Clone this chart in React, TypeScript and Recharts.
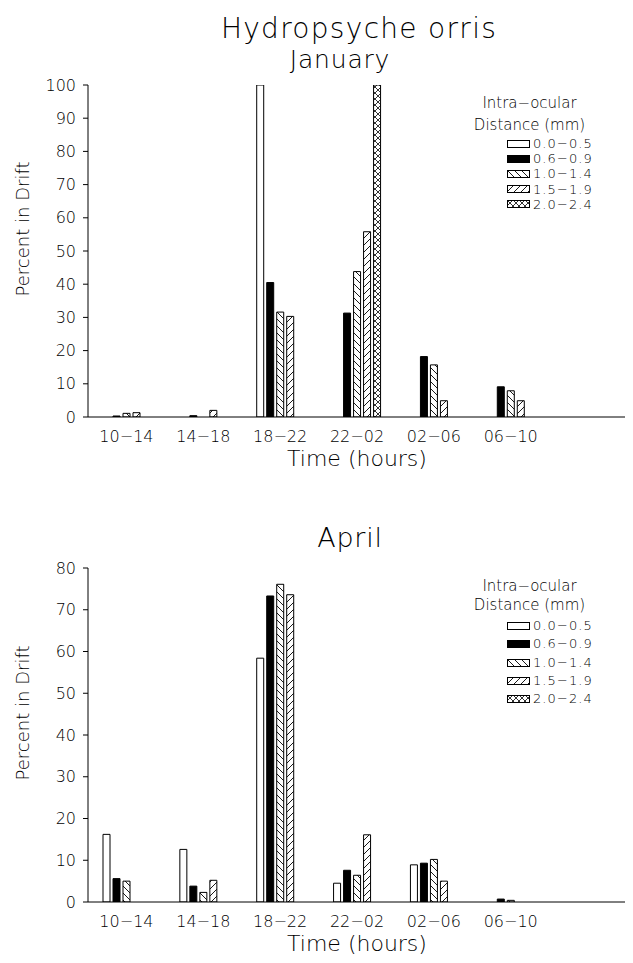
import React from "react";
import { BarChart, Bar, XAxis, YAxis, Legend, Label } from "recharts";

const FONT = "'DejaVu Sans', sans-serif";

// time-of-day categories (last slot is empty on the original plot)
const times = ["10−14", "14−18", "18−22", "22−02", "02−06", "06−10", ""];

// intra-ocular distance classes
const sizeClasses = ["0.0−0.5", "0.6−0.9", "1.0−1.4", "1.5−1.9", "2.0−2.4"];
const sizeKeys = ["s00", "s06", "s10", "s15", "s20"];
const sizeFills = ["#ffffff", "#000000", "url(#hatchBack)", "url(#hatchFwd)", "url(#hatchCross)"];

// January - percent in drift
const janS00 = [0, 0, 100, 0, 0, 0, 0];
const janS06 = [0.3, 0.4, 40.5, 31.3, 18.2, 9.1, 0];
const janS10 = [1.1, 0, 31.6, 43.8, 15.7, 7.9, 0];
const janS15 = [1.3, 2.0, 30.3, 55.8, 4.9, 4.9, 0];
const janS20 = [0, 0, 0, 100, 0, 0, 0];

// April - percent in drift
const aprS00 = [16.2, 12.6, 58.4, 4.5, 8.9, 0, 0];
const aprS06 = [5.6, 3.8, 73.3, 7.6, 9.3, 0.7, 0];
const aprS10 = [5.0, 2.3, 76.1, 6.4, 10.2, 0.4, 0];
const aprS15 = [0, 5.2, 73.6, 16.1, 5.0, 0, 0];
const aprS20 = [0, 0, 0, 0, 0, 0, 0];

const janTicks = [0, 10, 20, 30, 40, 50, 60, 70, 80, 90, 100];
const aprTicks = [0, 10, 20, 30, 40, 50, 60, 70, 80];
const slotTicks = [1, 2, 3, 4, 5, 6];

function buildRows(cols: number[][]) {
  return times.map((time, i) => {
    const row: Record<string, any> = { time };
    sizeKeys.forEach((k, j) => {
      row[k] = cols[j][i];
    });
    return row;
  });
}

const janData = buildRows([janS00, janS06, janS10, janS15, janS20]);
const aprData = buildRows([aprS00, aprS06, aprS10, aprS15, aprS20]);

const renderNothing = () => <g />;

function LegendBox({ titleLH, rowH, gap }: { titleLH: number; rowH: number; gap: number }) {
  return (
    <div style={{ width: 127, fontFamily: FONT, fontWeight: 200, fontSize: 15, color: "#000" }}>
      <div style={{ textAlign: "center", lineHeight: `${titleLH}px` }}>Intra−ocular</div>
      <div style={{ textAlign: "center", lineHeight: `${titleLH}px`, marginBottom: gap }}>Distance (mm)</div>
      {sizeClasses.map((c, i) => (
        <div
          key={c}
          style={{ display: "flex", justifyContent: "flex-end", alignItems: "center", height: rowH }}
        >
          <svg width={23} height={8} style={{ marginRight: 3 }}>
            <rect x={0.5} y={0.5} width={22} height={7} fill={sizeFills[i]} stroke="#000" />
          </svg>
          <span
            style={{
              width: 60,
              whiteSpace: "nowrap",
              fontSize: 13,
              letterSpacing: 1.1,
              lineHeight: `${rowH}px`,
            }}
          >
            {c}
          </span>
        </div>
      ))}
    </div>
  );
}

const yLabel = (props: any) => {
  const vb = props.viewBox || {};
  const cx = 22;
  const cy = vb.y + vb.height / 2 - 22;
  return (
    <text
      x={cx}
      y={cy}
      transform={`rotate(-90, ${cx}, ${cy})`}
      textAnchor="middle"
      dominantBaseline="central"
      fontFamily={FONT}
      fontWeight={200}
      fontSize={18}
      fill="#000"
    >
      Percent in Drift
    </text>
  );
};

interface PanelProps {
  data: any[];
  yMax: number;
  yTicks: number[];
  height: number;
  plotTop: number;
  xAxisHeight: number;
  legendTop: number;
  titleLH: number;
  rowH: number;
  gap: number;
  children?: React.ReactNode;
}

function Panel({ data, yMax, yTicks, height, plotTop, xAxisHeight, legendTop, titleLH, rowH, gap, children }: PanelProps) {
  const axisText = { fill: "#000", fontSize: 16, fontFamily: FONT, fontWeight: 200 };
  return (
    <BarChart
      width={633}
      height={height}
      data={data}
      margin={{ top: plotTop, right: 7, bottom: 0, left: 28 }}
      barCategoryGap={15}
      barGap={3}
    >
      {children}
      <XAxis
        dataKey="time"
        interval={0}
        tickLine={false}
        tickSize={0}
        tickMargin={14}
        height={xAxisHeight}
        tick={axisText}
        axisLine={{ stroke: "#000" }}
      >
        <Label
          value="Time (hours)"
          position="insideBottom"
          offset={xAxisHeight - 49}
          fill="#000"
          fontSize={22}
          fontFamily={FONT}
          fontWeight={200}
        />
      </XAxis>
      {/* small inward marks at the category boundaries */}
      <XAxis
        xAxisId="slots"
        type="number"
        domain={[0, 7]}
        ticks={slotTicks}
        allowDataOverflow
        mirror
        height={0}
        axisLine={false}
        tickSize={5}
        tickLine={{ stroke: "#000" }}
        tick={renderNothing}
      />
      <XAxis xAxisId="top" orientation="top" dataKey="time" height={0} tick={false} tickLine={false} axisLine={{ stroke: "#000" }} />
      <YAxis
        domain={[0, yMax]}
        ticks={yTicks}
        interval={0}
        allowDataOverflow
        width={60}
        tickSize={5}
        tickMargin={7}
        tick={axisText}
        tickLine={{ stroke: "#000" }}
        axisLine={{ stroke: "#000" }}
      >
        <Label content={yLabel} />
      </YAxis>
      <YAxis
        yAxisId="in"
        domain={[0, yMax]}
        ticks={yTicks}
        interval={0}
        allowDataOverflow
        mirror
        width={0}
        axisLine={false}
        tickSize={5}
        tickLine={{ stroke: "#000" }}
        tick={renderNothing}
      />
      <YAxis
        yAxisId="right"
        orientation="right"
        domain={[0, yMax]}
        allowDataOverflow
        width={0}
        tick={false}
        tickLine={false}
        axisLine={{ stroke: "#000" }}
      />
      <Legend
        layout="vertical"
        align="center"
        verticalAlign="middle"
        wrapperStyle={{ top: legendTop, left: 466, width: 127 }}
        content={<LegendBox titleLH={titleLH} rowH={rowH} gap={gap} />}
      />
      {sizeKeys.map((k, i) => (
        <Bar
          key={k}
          dataKey={k}
          name={sizeClasses[i]}
          fill={sizeFills[i]}
          stroke="#000"
          strokeWidth={1}
          isAnimationActive={false}
        />
      ))}
    </BarChart>
  );
}

export default function App() {
  const titleStyle = { fontFamily: FONT, fontWeight: 200, fill: "#000" };
  return (
    <div style={{ position: "relative", width: 633, height: 963, margin: -8, background: "#fff" }}>
      <svg width={0} height={0} style={{ position: "absolute" }}>
        <defs>
          <pattern id="hatchBack" patternUnits="userSpaceOnUse" width={7} height={7}>
            <rect width={7} height={7} fill="#fff" />
            <path d="M0,0 L7,7 M-1,6 L1,8 M6,-1 L8,1" stroke="#000" strokeWidth={0.9} />
          </pattern>
          <pattern id="hatchFwd" patternUnits="userSpaceOnUse" width={7} height={7}>
            <rect width={7} height={7} fill="#fff" />
            <path d="M0,7 L7,0 M-1,1 L1,-1 M6,8 L8,6" stroke="#000" strokeWidth={0.9} />
          </pattern>
          <pattern id="hatchCross" patternUnits="userSpaceOnUse" width={6} height={6}>
            <rect width={6} height={6} fill="#fff" />
            <path d="M0,0 L6,6 M0,6 L6,0" stroke="#000" strokeWidth={0.8} />
          </pattern>
        </defs>
      </svg>
      <div style={{ position: "absolute", top: 0, left: 0 }}>
        <Panel
          data={janData}
          yMax={100}
          yTicks={janTicks}
          height={480}
          plotTop={85}
          xAxisHeight={63}
          legendTop={92}
          titleLH={22}
          rowH={15.2}
          gap={0}
        >
          <text x={359} y={38} textAnchor="middle" fontSize={28} letterSpacing={1.3} {...titleStyle}>
            Hydropsyche orris
          </text>
          <text x={340} y={68} textAnchor="middle" fontSize={25} letterSpacing={0.8} {...titleStyle}>
            January
          </text>
        </Panel>
      </div>
      <div style={{ position: "absolute", top: 490, left: 0 }}>
        <Panel
          data={aprData}
          yMax={80}
          yTicks={aprTicks}
          height={473}
          plotTop={78}
          xAxisHeight={61}
          legendTop={87}
          titleLH={19}
          rowH={18.3}
          gap={2}
        >
          <text x={350} y={57} textAnchor="middle" fontSize={27} letterSpacing={0.8} {...titleStyle}>
            April
          </text>
        </Panel>
      </div>
    </div>
  );
}
